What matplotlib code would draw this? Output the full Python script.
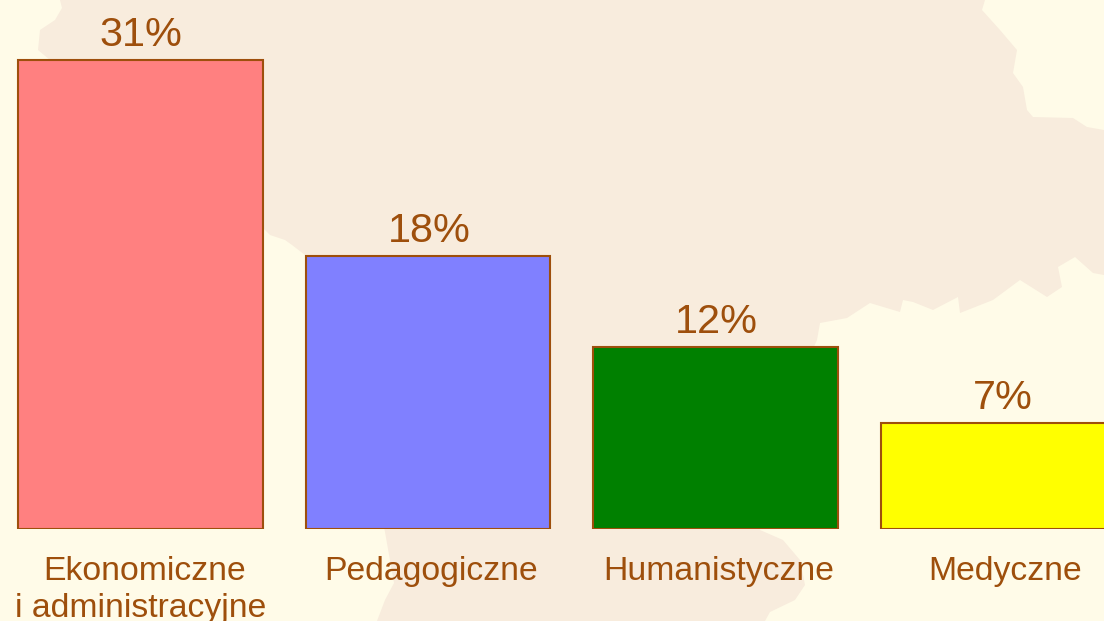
import matplotlib
matplotlib.use("Agg")
import matplotlib.pyplot as plt
from matplotlib.patches import Polygon

plt.rcParams['font.family'] = ['Liberation Sans', 'DejaVu Sans']

#data
categories = ["Ekonomiczne", "Pedagogiczne", "Humanistyczne", "Medyczne"]
second_line = ["i administracyjne", "", "", ""]
values = [31, 18, 12, 7]
bar_colors = ["#FF8080", "#8080FF", "#008000", "#FFFF00"]

#colours
page_color = "#FFFBE8"
map_color = "#F8ECDD"
text_color = "#9E4F0C"

#faint map behind the chart, outline in pixels of the picture
map_outline = [
    (60, 0), (985, 0), (982, 10), (1000, 30), (1017, 50), (1013, 73), (1023, 87),
    (1027, 110), (1033, 117), (1073, 118), (1087, 127), (1104, 130), (1104, 275),
    (1093, 273), (1075, 257), (1058, 267), (1062, 287), (1047, 297), (1020, 280),
    (993, 300), (960, 313), (958, 297), (933, 310), (913, 302), (903, 300),
    (900, 312), (870, 303), (847, 318), (820, 323), (817, 340), (780, 420),
    (760, 530), (783, 540), (800, 560), (805, 585), (795, 600), (770, 612),
    (765, 621), (377, 621), (385, 600), (394, 583), (385, 532), (350, 350),
    (305, 255), (292, 245), (285, 240), (270, 235), (263, 228), (120, 150),
    (50, 60), (38, 50), (40, 30), (55, 20), (62, 8),
]

fig = plt.figure(figsize=(11.04, 6.21), dpi=100, facecolor=page_color)

#background axes in picture pixels
back = fig.add_axes([0, 0, 1, 1], zorder=0)
back.set_xlim(0, 1104)
back.set_ylim(621, 0)
back.axis("off")
back.add_patch(Polygon(map_outline, closed=True, facecolor=map_color, edgecolor="none"))

#chart axes, baseline at y=528.5 and the top of the picture at 35%
ax = fig.add_axes([0, 92.5 / 621, 1, 528.5 / 621], zorder=1)
ax.patch.set_alpha(0)
ax.set_xlim(-0.4887, 3.351)
ax.set_ylim(0, 34.97)
ax.axis("off")

x = range(len(values))
bars = ax.bar(x, values, width=0.85, color=bar_colors, edgecolor=text_color, linewidth=1.5)

#value labels
value_shift = [0.5, 1.2, 0.5, 0]
for i, v in enumerate(values):
  ax.annotate(str(v) + "%", (i, v), xytext=(value_shift[i], 10.2), textcoords="offset points",
              ha="center", va="baseline", fontsize=29.8, color=text_color)

#category labels, sitting a little right of the bar centres
label_shift = [2.8, 2.5, 2.5, 1.5]
for i, name in enumerate(categories):
  ax.annotate(name, (i, 0), xytext=(label_shift[i], -37), textcoords="offset points",
              ha="center", va="baseline", fontsize=24.3, color=text_color, annotation_clip=False)
  if second_line[i]:
    ax.annotate(second_line[i], (i, 0), xytext=(0, -63.5), textcoords="offset points",
                ha="center", va="baseline", fontsize=24.3, color=text_color, annotation_clip=False)

fig.savefig("out.png", dpi=100, facecolor=page_color)
